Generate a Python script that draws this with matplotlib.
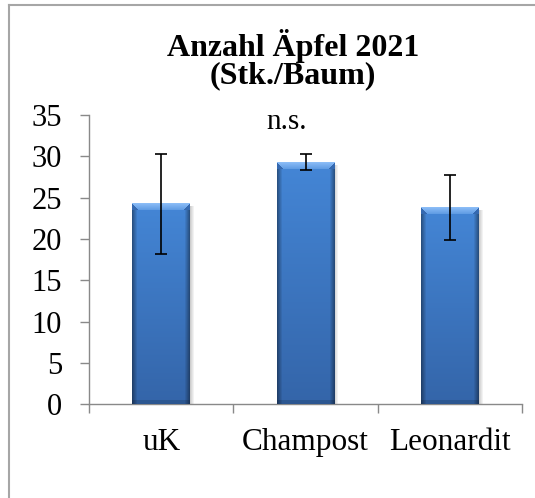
import numpy as np
import matplotlib
matplotlib.use('Agg')
import matplotlib.pyplot as plt
from matplotlib.lines import Line2D

categories = ['uK', 'Champost', 'Leonardit']
means = [24.2, 29.2, 23.8]
err_low = [18.2, 28.3, 19.9]
err_high = [30.3, 30.3, 27.7]
yticks = [0, 5, 10, 15, 20, 25, 30, 35]

plt.rcParams['font.family'] = ['Liberation Serif', 'DejaVu Serif']


def hexrgb(h):
    return np.array([int(h[i:i + 2], 16) for i in (1, 3, 5)]) / 255.0


def bar_image(w, h):
    # excel-like bevelled bar fill, built in pixel space
    t = np.linspace(0, 1, h)[:, None, None]
    img = hexrgb('#4486d6') * (1 - t) + hexrgb('#3465a9') * t
    img = np.broadcast_to(img, (h, w, 3)).copy()
    xs = np.arange(w)[None, :]
    dist = np.minimum(xs, w - 1 - xs)
    shade = 0.62 + 0.38 * np.clip(dist / 5.0, 0, 1)
    img *= shade[..., None]
    b = 7
    r = np.arange(h)[:, None]
    bevel = (r < b) & (xs >= r) & (xs <= w - 1 - r)
    s = np.clip(r / b, 0, 1)[..., None]
    lite = hexrgb('#8abcf6') * (1 - s) + hexrgb('#5b98e2') * s
    lite = np.broadcast_to(lite, (h, w, 3))
    img[bevel] = lite[bevel]
    side_top = (r < b) & ~bevel
    img[side_top] = hexrgb('#3569b0')
    img[-4:] *= 0.86
    return np.clip(img, 0, 1)


fig = plt.figure(figsize=(5.35, 4.98), dpi=100)
ax = fig.add_axes([0.1664, 0.1882, 0.8093, 0.5809])
x = np.arange(len(categories))
bars = ax.bar(x, means, width=0.4, color='#3d78c4', zorder=2)
yerr = [[m - l for m, l in zip(means, err_low)],
        [hi - m for m, hi in zip(means, err_high)]]
ax.set_xlim(-0.5, 2.5)
ax.set_ylim(0, 35)

px_x = 1.0 / (ax.transData.transform((1, 0))[0] - ax.transData.transform((0, 0))[0])
px_y = 1.0 / (ax.transData.transform((0, 1))[1] - ax.transData.transform((0, 0))[1])
for rect in bars:
    bb = rect.get_window_extent()
    w = int(round(bb.width))
    h = int(round(bb.height))
    x0 = rect.get_x()
    x1 = x0 + rect.get_width()
    ax.imshow(bar_image(w, h), extent=(x0, x1, 0, rect.get_height()),
              aspect='auto', interpolation='nearest', zorder=3)
    # soft shadow at right side
    sh = np.zeros((1, 5, 4))
    sh[..., :3] = 0.45
    sh[0, :, 3] = np.linspace(0.35, 0.0, 5)
    ax.imshow(sh, extent=(x1, x1 + 5 * px_x, 0, rect.get_height() - 3 * px_y),
              aspect='auto', interpolation='bilinear', zorder=1)

ax.errorbar(x, means, yerr=yerr, fmt='none', ecolor='black', elinewidth=1.2,
            capsize=4, capthick=1.2, zorder=5)
ax.set_xlim(-0.5, 2.5)
ax.set_ylim(0, 35)

for side in ['top', 'right']:
    ax.spines[side].set_visible(False)
for side in ['left', 'bottom']:
    ax.spines[side].set_color('#898989')
    ax.spines[side].set_linewidth(1)

ax.set_yticks(yticks)
ax.tick_params(axis='y', direction='out', length=6.5, width=1, color='#898989',
               labelsize=22, pad=13)
ax.set_xticks(x, categories)
ax.set_xticks([-0.5, 0.5, 1.5, 2.5], minor=True)
ax.tick_params(axis='x', which='major', length=0, labelsize=22.5, pad=17)
ax.tick_params(axis='x', which='minor', direction='out', length=6.5, width=1,
               color='#898989')

ax.text(0.87, 33.3, 'n.s.', ha='center', va='baseline', fontsize=21)

fig.text(0.548, 0.888, 'Anzahl Äpfel 2021', ha='center', va='baseline',
         fontsize=23, fontweight='bold')
fig.text(0.548, 0.832, '(Stk./Baum)', ha='center', va='baseline',
         fontsize=23, fontweight='bold')

# chart frame (cut off at right and bottom in the original)
fig.add_artist(Line2D([9 / 535, 9 / 535], [0, 1 - 5 / 498], transform=fig.transFigure,
                      color='#a6a6a6', lw=1.5))
fig.add_artist(Line2D([9 / 535, 1], [1 - 5 / 498, 1 - 5 / 498], transform=fig.transFigure,
                      color='#a6a6a6', lw=1.5))

fig.savefig('out.png', dpi=100)
